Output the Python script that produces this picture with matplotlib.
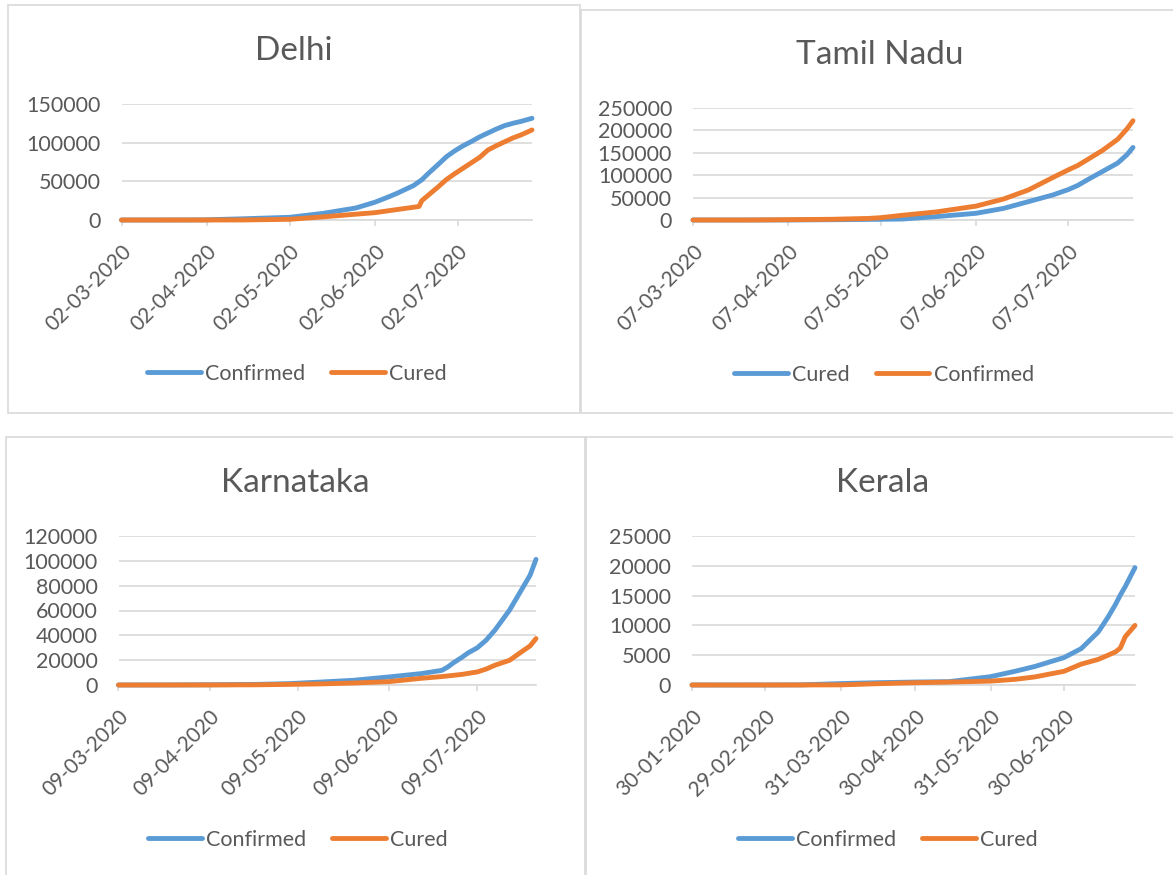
import matplotlib
matplotlib.use("Agg")
import matplotlib.pyplot as plt
import matplotlib.dates as mdates
from matplotlib.patches import Rectangle
from matplotlib.ticker import FuncFormatter
import pandas as pd

# --- data (cumulative counts) ---
delhi_dates = ["02-03-2020", "16-03-2020", "01-04-2020", "15-04-2020", "02-05-2020",
               "14-05-2020", "26-05-2020", "02-06-2020", "07-06-2020", "10-06-2020",
               "13-06-2020", "16-06-2020", "18-06-2020", "19-06-2020", "21-06-2020",
               "23-06-2020", "25-06-2020", "28-06-2020", "01-07-2020", "04-07-2020",
               "07-07-2020", "10-07-2020", "13-07-2020", "16-07-2020", "19-07-2020",
               "22-07-2020", "25-07-2020", "29-07-2020"]
delhi_confirmed = [1, 7, 152, 1561, 3500, 8500, 15500, 23000, 30000, 34500,
                   39500, 44500, 49500, 52000, 59000, 65500, 72000, 82000, 89500, 96000,
                   101500, 107500, 112500, 117500, 122000, 125000, 127500, 131500]
delhi_cured = [0, 1, 6, 30, 900, 4000, 7500, 9500, 12000, 13500,
               15000, 16500, 17500, 25000, 31000, 37000, 43000, 52500, 60000, 67000,
               74000, 81000, 90500, 96000, 101000, 106000, 110000, 116400]
delhi_ticks = ["02-03-2020", "02-04-2020", "02-05-2020", "02-06-2020", "02-07-2020"]

tn_dates = ["07-03-2020", "25-03-2020", "07-04-2020", "21-04-2020", "03-05-2020",
            "07-05-2020", "14-05-2020", "25-05-2020", "07-06-2020", "16-06-2020",
            "24-06-2020", "02-07-2020", "07-07-2020", "10-07-2020", "13-07-2020",
            "18-07-2020", "23-07-2020", "26-07-2020", "28-07-2020"]
tn_cured = [0, 1, 19, 662, 1300, 1600, 2200, 7500, 15000, 26000, 41000, 56000,
            68000, 77000, 89000, 108000, 127000, 145500, 162000]
tn_confirmed = [1, 18, 690, 1596, 3500, 5200, 10500, 18000, 31000, 47000, 67000,
                95000, 112000, 121500, 134000, 155000, 180000, 203000, 221600]
tn_ticks = ["07-03-2020", "07-04-2020", "07-05-2020", "07-06-2020", "07-07-2020"]

ka_dates = ["09-03-2020", "25-03-2020", "09-04-2020", "25-04-2020", "06-05-2020",
            "17-05-2020", "28-05-2020", "09-06-2020", "20-06-2020", "27-06-2020",
            "29-06-2020", "01-07-2020", "04-07-2020", "06-07-2020", "09-07-2020",
            "12-07-2020", "15-07-2020", "20-07-2020", "24-07-2020", "27-07-2020",
            "29-07-2020"]
ka_confirmed = [1, 41, 181, 489, 1100, 2400, 3800, 6500, 9200, 11800,
                14500, 18000, 22600, 26000, 29900, 36000, 44100, 60300, 76400, 88500,
                101200]
ka_cured = [0, 3, 28, 153, 500, 900, 1600, 2700, 5400, 6800,
            7300, 7800, 8600, 9400, 10500, 12800, 15900, 19900, 26600, 31500,
            37400]
ka_ticks = ["09-03-2020", "09-04-2020", "09-05-2020", "09-06-2020", "09-07-2020"]

kl_dates = ["30-01-2020", "29-02-2020", "15-03-2020", "31-03-2020", "15-04-2020",
            "30-04-2020", "14-05-2020", "31-05-2020", "10-06-2020", "18-06-2020",
            "30-06-2020", "07-07-2020", "14-07-2020", "18-07-2020", "21-07-2020",
            "23-07-2020", "25-07-2020", "29-07-2020"]
kl_confirmed = [1, 3, 24, 241, 387, 497, 560, 1400, 2300, 3100, 4600, 6100,
                8900, 11400, 13500, 15100, 16500, 19700]
kl_cured = [0, 3, 3, 24, 218, 383, 490, 650, 950, 1350, 2300, 3500,
            4300, 5000, 5550, 6200, 8100, 10000]
kl_ticks = ["30-01-2020", "29-02-2020", "31-03-2020", "30-04-2020", "31-05-2020", "30-06-2020"]

BLUE = "#5B9BD5"
ORANGE = "#ED7D31"
TEXT = "#595959"
GRID = "#D9D9D9"

W, H = 1173, 875
plt.rcParams["font.family"] = ["Lato", "DejaVu Sans"]

fig = plt.figure(figsize=(W / 100, H / 100), dpi=100)


def to_dt(lst):
    return pd.to_datetime(lst, format="%d-%m-%Y")


def frac(l, t, r, b):
    # pixel box (top-left origin) -> figure fraction [x, y, w, h]
    return [l / W, 1 - b / H, (r - l) / W, (b - t) / H]


def draw_panel(panel, axbox, title, title_xy, legend_xy, dates, series, ymax, ystep, ticks):
    x, y, w, h = frac(*panel)
    fig.add_artist(Rectangle((x, y), w, h, transform=fig.transFigure, fill=False,
                             ec=GRID, lw=1.2))
    ax = fig.add_axes(frac(*axbox))
    d = to_dt(dates)
    for label, vals, col in series:
        ax.plot(d, vals, color=col, lw=3.5, label=label, solid_capstyle="round",
                solid_joinstyle="round", clip_on=False, zorder=3)
    ax.set_xlim(d[0], d[-1])
    ax.set_ylim(0, ymax)
    ax.set_yticks(range(0, ymax + 1, ystep))
    ax.yaxis.set_major_formatter(FuncFormatter(lambda v, p: f"{int(v)}"))
    ax.set_xticks(to_dt(ticks))
    ax.xaxis.set_major_formatter(mdates.DateFormatter("%d-%m-%Y"))
    for s in ["top", "right", "left"]:
        ax.spines[s].set_visible(False)
    ax.spines["bottom"].set_color(GRID)
    ax.spines["bottom"].set_linewidth(1.2)
    ax.grid(axis="y", color=GRID, lw=1.2)
    ax.set_axisbelow(True)
    ax.tick_params(axis="y", length=0, pad=15, labelsize=15.5, labelcolor=TEXT)
    ax.tick_params(axis="x", length=4, width=1.2, color=GRID, direction="out",
                   pad=11, labelsize=15, labelcolor=TEXT)
    plt.setp(ax.get_xticklabels(), rotation=45, ha="right", va="top",
             rotation_mode="anchor")
    fig.text(title_xy[0] / W, 1 - title_xy[1] / H, title, ha="center", va="center",
             fontsize=24, color=TEXT)
    ax.legend(loc="center", bbox_to_anchor=(legend_xy[0] / W, 1 - legend_xy[1] / H),
              bbox_transform=fig.transFigure, ncol=2, frameon=False, fontsize=15.5,
              labelcolor=TEXT, handlelength=2.5, handletextpad=0.2, columnspacing=1.2)
    return ax


draw_panel((8, 5, 580, 413), (121.5, 104, 532, 220), "Delhi", (294, 51), (297, 374),
           delhi_dates, [("Confirmed", delhi_confirmed, BLUE), ("Cured", delhi_cured, ORANGE)],
           150000, 50000, delhi_ticks)
draw_panel((581, 10, 1185, 413), (693, 108, 1133, 220), "Tamil Nadu", (880, 55), (884, 375),
           tn_dates, [("Cured", tn_cured, BLUE), ("Confirmed", tn_confirmed, ORANGE)],
           250000, 50000, tn_ticks)
draw_panel((6, 437, 585, 890), (118.5, 536, 536, 685), "Karnataka", (295, 483), (298, 840),
           ka_dates, [("Confirmed", ka_confirmed, BLUE), ("Cured", ka_cured, ORANGE)],
           120000, 20000, ka_ticks)
draw_panel((586, 437, 1185, 890), (692, 536, 1135, 685), "Kerala", (883, 483), (888, 840),
           kl_dates, [("Confirmed", kl_confirmed, BLUE), ("Cured", kl_cured, ORANGE)],
           25000, 5000, kl_ticks)

fig.savefig("out.png", dpi=100, facecolor="white")
